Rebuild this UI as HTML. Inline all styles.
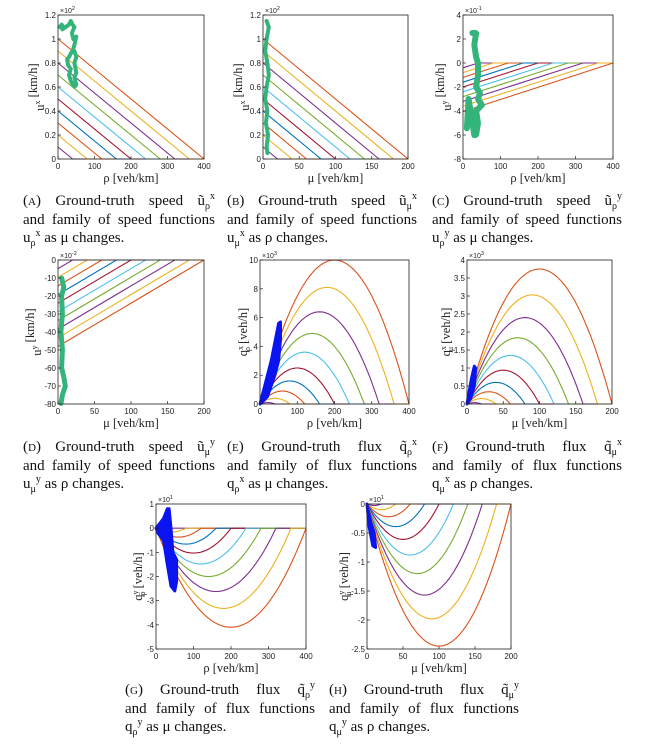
<!DOCTYPE html>
<html><head><meta charset="utf-8">
<style>
body{margin:0;background:#fff;width:645px;height:750px;overflow:hidden;position:relative;font-family:"Liberation Serif",serif;}
svg{position:absolute;left:0;top:0}
.cap{position:absolute;font-family:"Liberation Serif",serif;font-size:15px;color:#111;line-height:18.5px}
.cap div{white-space:nowrap;text-align:justify;text-align-last:justify;overflow:visible;height:18.5px}
.cap div.last{text-align-last:left}
sub,sup{font-size:10px;line-height:0}
.sc{font-variant:small-caps}
</style></head><body>
<svg id="fig" width="645" height="750"></svg>

<div class="cap" style="left:23px;top:192px;width:192px"><div>(<span class="sc">a</span>) Ground-truth speed ũ<sub>ρ</sub><sup>x</sup></div><div>and family of speed functions</div><div class="last">u<sub>ρ</sub><sup>x</sup> as μ changes.</div></div>
<div class="cap" style="left:227px;top:192px;width:190px"><div>(<span class="sc">b</span>) Ground-truth speed ũ<sub>μ</sub><sup>x</sup></div><div>and family of speed functions</div><div class="last">u<sub>μ</sub><sup>x</sup> as ρ changes.</div></div>
<div class="cap" style="left:432px;top:192px;width:190px"><div>(<span class="sc">c</span>) Ground-truth speed ũ<sub>ρ</sub><sup>y</sup></div><div>and family of speed functions</div><div class="last">u<sub>ρ</sub><sup>y</sup> as μ changes.</div></div>
<div class="cap" style="left:23px;top:438px;width:192px"><div>(<span class="sc">d</span>) Ground-truth speed ũ<sub>μ</sub><sup>y</sup></div><div>and family of speed functions</div><div class="last">u<sub>μ</sub><sup>y</sup> as ρ changes.</div></div>
<div class="cap" style="left:227px;top:438px;width:190px"><div>(<span class="sc">e</span>) Ground-truth flux q̃<sub>ρ</sub><sup>x</sup></div><div>and family of flux functions</div><div class="last">q<sub>ρ</sub><sup>x</sup> as μ changes.</div></div>
<div class="cap" style="left:432px;top:438px;width:190px"><div>(<span class="sc">f</span>) Ground-truth flux q̃<sub>μ</sub><sup>x</sup></div><div>and family of flux functions</div><div class="last">q<sub>μ</sub><sup>x</sup> as ρ changes.</div></div>
<div class="cap" style="left:125px;top:681px;width:190px"><div>(<span class="sc">g</span>) Ground-truth flux q̃<sub>ρ</sub><sup>y</sup></div><div>and family of flux functions</div><div class="last">q<sub>ρ</sub><sup>y</sup> as μ changes.</div></div>
<div class="cap" style="left:329px;top:681px;width:190px"><div>(<span class="sc">h</span>) Ground-truth flux q̃<sub>μ</sub><sup>y</sup></div><div>and family of flux functions</div><div class="last">q<sub>μ</sub><sup>y</sup> as ρ changes.</div></div>

<script>
// family colors (k = 1..10)
const familyColors = ['#7E2F8E','#EDB120','#D95319','#0072BD','#A2142F','#4DBEEE','#77AC30','#7E2F8E','#EDB120','#D95319'];
// family parameters
const aIntercepts = [0.1,0.2,0.3,0.4,0.5,0.6,0.7,0.8,0.9,1.0];
const aZeros = [40,80,120,160,200,240,280,320,360,400];
const bIntercepts = [0.1,0.2,0.3,0.4,0.5,0.6,0.7,0.8,0.9,1.0];
const bZeros = [20,40,60,80,100,120,140,160,180,200];
const cIntercepts = [-0.4,-0.8,-1.2,-1.6,-2.0,-2.4,-2.8,-3.2,-3.6,-4.05];
const cZeros = [40,80,120,160,200,240,280,320,360,400];
const dIntercepts = [-4.8,-9.6,-14.4,-19.2,-24,-28.8,-33.6,-38.4,-43.2,-48];
const dZeros = [20,40,60,80,100,120,140,160,180,200];
const ePeaks = [0.1,0.4,0.9,1.6,2.5,3.6,4.9,6.4,8.1,10];
const eZeros = [40,80,120,160,200,240,280,320,360,400];
const fPeaks = [0.0375,0.15,0.34,0.6,0.94,1.35,1.84,2.4,3.03,3.75];
const fZeros = [20,40,60,80,100,120,140,160,180,200];
const gPeaks = [-0.041,-0.164,-0.37,-0.66,-1.03,-1.48,-2.0,-2.62,-3.32,-4.1];
const gZeros = [40,80,120,160,200,240,280,320,360,400];
const hPeaks = [-0.0245,-0.098,-0.22,-0.39,-0.61,-0.88,-1.2,-1.57,-1.98,-2.45];
const hZeros = [20,40,60,80,100,120,140,160,180,200];
// ground-truth samples
const aTruth = [[5,1.1],[10,1.12],[15,1.1],[12,1.08],[30,1.12],[35,1.15],[40,1.12],[45,1.1],[38,1.05],[42,1.0],[50,1.02],[45,0.95],[40,0.9],[35,0.88],[30,0.85],[25,0.83],[28,0.78],[35,0.75],[30,0.7],[35,0.65],[45,0.6],[50,0.62],[45,0.68],[50,0.72],[45,0.8],[50,0.85],[45,0.9]];
const bTruth = [[5,1.15],[8,1.1],[5,1.0],[3,0.9],[6,0.8],[8,0.7],[5,0.6],[3,0.5],[6,0.4],[4,0.3],[7,0.2],[5,0.1],[6,0.05]];
const cTruth = [[25,2.5],[35,2.5],[30,1.5],[35,0.5],[40,0],[40,-1],[35,-2],[45,-2.5],[40,-3],[50,-3.5],[35,-4],[40,-5],[35,-6],[30,-6],[25,-5],[20,-4],[15,-3],[10,-5.5]];
const dTruth = [[5,-10],[8,-15],[5,-20],[6,-30],[4,-40],[6,-50],[5,-60],[8,-65],[10,-70],[6,-75],[4,-80]];
const eTruth = [[0,0],[30,3],[50,5.6],[55,5.7],[55,4.5],[50,3],[40,2],[20,0.5],[0,0]];
const fTruth = [[0,0],[6,0.7],[10,1.05],[12,1.0],[10,0.5],[5,0.15],[0,0]];
const gTruth = [[20,0.4],[30,0.8],[35,0.8],[40,0],[45,-1],[55,-1.3],[55,-2.2],[50,-2.6],[40,-2.4],[30,-1.5],[20,-0.5],[5,-0.2],[0,0]];
const hTruth = [[0,0],[5,-0.3],[10,-0.5],[12,-0.75],[8,-0.72],[3,-0.4]];
// axis ticks
const x400Ticks = [0,100,200,300,400];
const x200Ticks = [0,50,100,150,200];
const aYTicks = [0,0.2,0.4,0.6,0.8,1,1.2];
const cYTicks = [-8,-6,-4,-2,0,2,4];
const dYTicks = [-80,-70,-60,-50,-40,-30,-20,-10,0];
const eYTicks = [0,2,4,6,8,10];
const fYTicks = [0,0.5,1,1.5,2,2.5,3,3.5,4];
const gYTicks = [-5,-4,-3,-2,-1,0,1];
const hYTicks = [-2.5,-2,-1.5,-1,-0.5,0];

const NS='http://www.w3.org/2000/svg';
const svg=document.getElementById('fig');
function mk(tag,attrs,parent){const e=document.createElementNS(NS,tag);for(const k in attrs)e.setAttribute(k,attrs[k]);(parent||svg).appendChild(e);return e;}

function panel(p){
  const g=mk('g',{});
  
  
  const X=v=>p.x0+(v-p.xr[0])/(p.xr[1]-p.xr[0])*(p.x1-p.x0);
  const Y=v=>p.y1-(v-p.yr[0])/(p.yr[1]-p.yr[0])*(p.y1-p.y0);
  for(let i=0;i<p.params.length;i++){
    const a=p.params[i], z=p.zeros[i];
    let pts=[];
    if(p.kind==='lin'){pts=[[0,a],[z,0],[p.xr[1],0]];}
    else{for(let j=0;j<=60;j++){const x=z*j/60,t=x/z;pts.push([x,4*a*t*(1-t)]);}pts.push([p.xr[1],0]);}
    const l=mk('polyline',{points:pts.map(q=>X(q[0]).toFixed(1)+','+Y(q[1]).toFixed(1)).join(' '),fill:'none',stroke:familyColors[i],'stroke-width':1.1},g);
    
    
  }
  const tp=p.truth.map(q=>X(q[0]).toFixed(1)+','+Y(q[1]).toFixed(1)).join(' ');
  let t;
  if(p.tkind==='poly') t=mk('polygon',{points:tp,fill:'#0a14f0',stroke:'#0a14f0','stroke-width':3,'stroke-linejoin':'round'},g);
  else t=mk('polyline',{points:tp,fill:'none',stroke:'#33b47a','stroke-width':p.tw,'stroke-linejoin':'round','stroke-linecap':'round','stroke-dasharray':'3 1'},g);
  
  
  const b=mk('rect',{x:p.x0,y:p.y0,width:p.x1-p.x0,height:p.y1-p.y0,fill:'none',stroke:'#222','stroke-width':0.8},g);
  
  
  p.xt.forEach(v=>{
    mk('line',{x1:X(v),x2:X(v),y1:p.y1,y2:p.y1-3,stroke:'#222','stroke-width':0.7},g);
    const tx=mk('text',{x:X(v),y:p.y1+10,'font-size':8,'font-family':'Liberation Sans, sans-serif','text-anchor':'middle',fill:'#222'},g);
    tx.textContent=String(v);
    
    
  });
  p.yt.forEach(v=>{
    mk('line',{x1:p.x0,x2:p.x0+3,y1:Y(v),y2:Y(v),stroke:'#222','stroke-width':0.7},g);
    const tx=mk('text',{x:p.x0-2,y:Y(v)+3,'font-size':8,'font-family':'Liberation Sans, sans-serif','text-anchor':'end',fill:'#222'},g);
    tx.textContent=String(v);
    
    
  });
  const m=mk('text',{x:p.x0+2,y:p.y0-2,'font-size':7,'font-family':'Liberation Sans, sans-serif',fill:'#222'},g);
  m.innerHTML='×10<tspan dy="-3" font-size="5.5">'+p.mult+'</tspan>';
  
  
  const xl=mk('text',{x:(p.x0+p.x1)/2,y:p.y1+23,'font-size':12.5,'font-family':'Liberation Serif, serif','text-anchor':'middle',fill:'#222'},g);
  xl.textContent=p.xlabel;
  
  
  const cy=(p.y0+p.y1)/2, cx=p.x0-p.ylo;
  const yl=mk('text',{x:cx,y:cy,'font-size':12.5,'font-family':'Liberation Serif, serif','text-anchor':'middle',fill:'#222',transform:'rotate(-90 '+cx+' '+cy+')'},g);
  yl.innerHTML=p.yl+'<tspan dy="-4" font-size="8">'+p.ysup+'</tspan><tspan dy="7" dx="-5" font-size="8">'+p.ysub+'</tspan><tspan dy="-3"> '+p.yunit+'</tspan>';
  
  
}
panel({id:'a',x0:58,x1:204,y0:15,y1:159,xr:[0,400],yr:[0,1.2],xt:x400Ticks,yt:aYTicks,mult:2,xlabel:'ρ [veh/km]',yl:'u',ysup:'x',ysub:'',yunit:'[km/h]',ylo:14,kind:'lin',params:aIntercepts,zeros:aZeros,truth:aTruth,tkind:'line',tw:4});
panel({id:'b',x0:263,x1:408,y0:15,y1:159,xr:[0,200],yr:[0,1.2],xt:x200Ticks,yt:aYTicks,mult:2,xlabel:'μ [veh/km]',yl:'u',ysup:'x',ysub:'',yunit:'[km/h]',ylo:14,kind:'lin',params:bIntercepts,zeros:bZeros,truth:bTruth,tkind:'line',tw:4});
panel({id:'c',x0:463,x1:613,y0:15,y1:159,xr:[0,400],yr:[-8,4],xt:x400Ticks,yt:cYTicks,mult:-1,xlabel:'ρ [veh/km]',yl:'u',ysup:'y',ysub:'',yunit:'[km/h]',ylo:12,kind:'lin',params:cIntercepts,zeros:cZeros,truth:cTruth,tkind:'line',tw:6});
panel({id:'d',x0:58,x1:204,y0:260,y1:404,xr:[0,200],yr:[-80,0],xt:x200Ticks,yt:dYTicks,mult:-2,xlabel:'μ [veh/km]',yl:'u',ysup:'y',ysub:'',yunit:'[km/h]',ylo:17,kind:'lin',params:dIntercepts,zeros:dZeros,truth:dTruth,tkind:'line',tw:5});
panel({id:'e',x0:260,x1:409,y0:260,y1:404,xr:[0,400],yr:[0,10],xt:x400Ticks,yt:eYTicks,mult:3,xlabel:'ρ [veh/km]',yl:'q',ysup:'x',ysub:'ρ',yunit:'[veh/h]',ylo:13,kind:'quad',params:ePeaks,zeros:eZeros,truth:eTruth,tkind:'poly'});
panel({id:'f',x0:467,x1:612,y0:260,y1:404,xr:[0,200],yr:[0,4],xt:x200Ticks,yt:fYTicks,mult:3,xlabel:'μ [veh/km]',yl:'q',ysup:'x',ysub:'μ',yunit:'[veh/h]',ylo:17,kind:'quad',params:fPeaks,zeros:fZeros,truth:fTruth,tkind:'poly'});
panel({id:'g',x0:156,x1:306,y0:504,y1:649,xr:[0,400],yr:[-5,1],xt:x400Ticks,yt:gYTicks,mult:1,xlabel:'ρ [veh/km]',yl:'q',ysup:'y',ysub:'ρ',yunit:'[veh/h]',ylo:14,kind:'quad',params:gPeaks,zeros:gZeros,truth:gTruth,tkind:'poly'});
panel({id:'h',x0:367,x1:511,y0:504,y1:649,xr:[0,200],yr:[-2.5,0],xt:x200Ticks,yt:hYTicks,mult:1,xlabel:'μ [veh/km]',yl:'q',ysup:'y',ysub:'μ',yunit:'[veh/h]',ylo:19,kind:'quad',params:hPeaks,zeros:hZeros,truth:hTruth,tkind:'poly'});
</script>
</body></html>
